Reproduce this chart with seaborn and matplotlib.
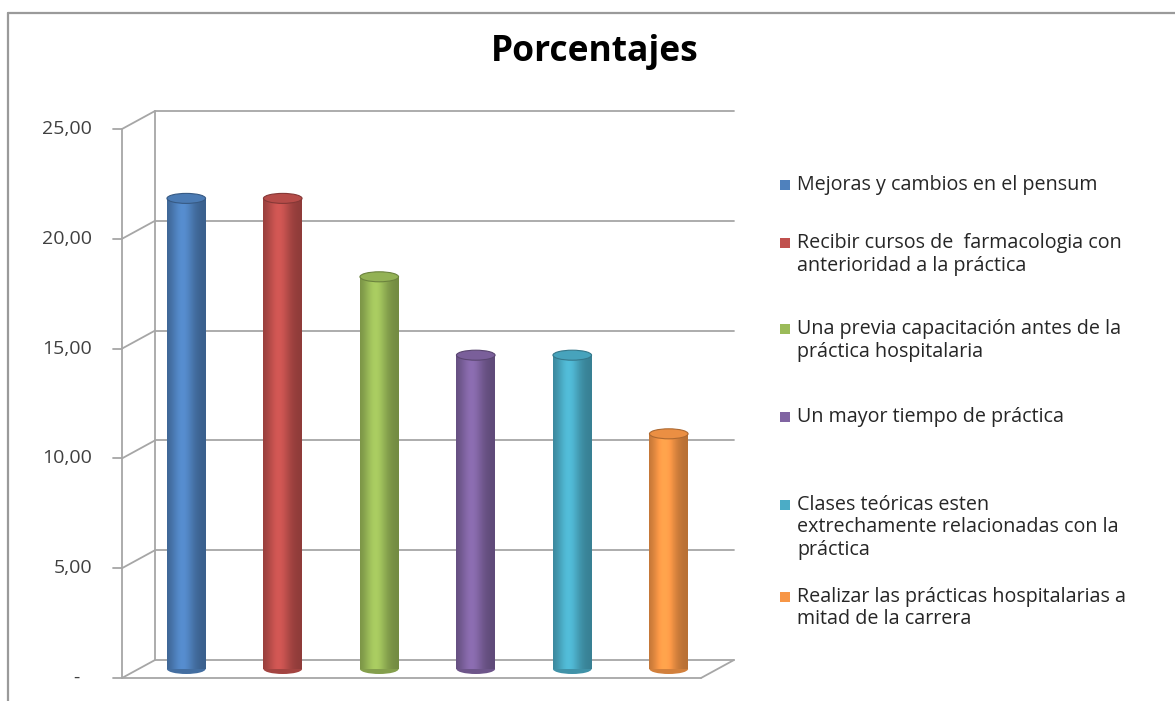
import numpy as np
import pandas as pd
import matplotlib
matplotlib.use("Agg")
import matplotlib.pyplot as plt
import matplotlib.transforms as mtransforms
from matplotlib.patches import Ellipse, Rectangle
import seaborn as sns

# ---- data -------------------------------------------------------------
categories = [
    "Mejoras y cambios en el pensum",
    "Recibir cursos de  farmacologia con\nanterioridad a la práctica",
    "Una previa capacitación antes de la\npráctica hospitalaria",
    "Un mayor tiempo de práctica",
    "Clases teóricas esten\nextrechamente relacionadas con la\npráctica",
    "Realizar las prácticas hospitalarias a\nmitad de la carrera",
]
porcentajes = [21.43, 21.43, 17.86, 14.29, 14.29, 10.71]
colors = ["#4F81BD", "#C0504D", "#9BBB59", "#8064A2", "#4BACC6", "#F79646"]
yticks = [0, 5, 10, 15, 20, 25]
ytick_labels = ["-", "5,00", "10,00", "15,00", "20,00", "25,00"]
title = "Porcentajes"

# ---- figure -----------------------------------------------------------
sns.set_theme(style="white")
plt.rcParams["font.family"] = ["Open Sans", "DejaVu Sans"]

W, H = 1175, 701
fig = plt.figure(figsize=(W / 100, H / 100), dpi=100)
fig.patch.set_facecolor("white")

# outer chart border (left and top edges visible)
fig.add_artist(plt.Line2D([8 / W, 8 / W], [0, 1 - 13 / H], transform=fig.transFigure,
                          color="#9a9a9a", lw=1.6))
fig.add_artist(plt.Line2D([8 / W, 1], [1 - 13 / H, 1 - 13 / H], transform=fig.transFigure,
                          color="#9a9a9a", lw=1.6))

# axes = middle depth plane of the 3-D box
x_left, x_right = 138, 717
y_zero, y_top = 669, 120
ax = fig.add_axes([x_left / W, (H - y_zero) / H, (x_right - x_left) / W, (y_zero - y_top) / H])

df = pd.DataFrame({"cat": categories, "val": porcentajes})
sns.barplot(data=df, x="cat", y="val", hue="cat", palette=colors, width=0.4,
            saturation=1, legend=False, ax=ax, zorder=3)
ax.set_xlim(-0.5, len(categories) - 0.5)
ax.set_ylim(0, 25)
ax.axis("off")

back = ax.transData + mtransforms.ScaledTranslation(17 / 100, 9 / 100, fig.dpi_scale_trans)
front = ax.transData + mtransforms.ScaledTranslation(-16 / 100, -9 / 100, fig.dpi_scale_trans)
grid_c = "#a6a6a6"
x0, x1 = -0.5, len(categories) - 0.5

# back wall gridlines and diagonal links to the front axis
for v in yticks:
    ax.plot([x0, x1], [v, v], transform=back, color=grid_c, lw=1.3, clip_on=False, zorder=1)
    p_front = front.transform((x0, v))
    p_back = back.transform((x0, v))
    fig.add_artist(plt.Line2D([p_front[0] / W, p_back[0] / W], [p_front[1] / H, p_back[1] / H],
                              transform=fig.transFigure, color=grid_c, lw=1.3))
    # tick mark on the front axis
    fig.add_artist(plt.Line2D([(p_front[0] - 9) / W, p_front[0] / W],
                              [p_front[1] / H, p_front[1] / H],
                              transform=fig.transFigure, color=grid_c, lw=1.3))

# back wall left edge, front axis, floor
ax.plot([x0, x0], [0, 25], transform=back, color=grid_c, lw=1.3, clip_on=False, zorder=1)
ax.plot([x0, x0], [0, 25], transform=front, color=grid_c, lw=1.3, clip_on=False, zorder=5)
ax.plot([x0, x1], [0, 0], transform=front, color=grid_c, lw=1.3, clip_on=False, zorder=5)
pf = front.transform((x1, 0))
pb = back.transform((x1, 0))
fig.add_artist(plt.Line2D([pf[0] / W, pb[0] / W], [pf[1] / H, pb[1] / H],
                          transform=fig.transFigure, color=grid_c, lw=1.3))

# y tick labels on the front axis
for v, lab in zip(yticks, ytick_labels):
    px, py = front.transform((x0, v))
    fig.text((80 if lab == "-" else 92) / W, py / H, lab,
             ha="right", va="center", fontsize=14, color="#404040")

# cylinder shading
px_per_unit = (y_zero - y_top) / 25
ell_h = 10 / px_per_unit
t = np.linspace(0, 1, 64)
shade = 0.74 + 0.36 * np.exp(-((t - 0.4) / 0.3) ** 2)
for patch, col in zip(ax.patches, colors):
    bx, bw, bh = patch.get_x(), patch.get_width(), patch.get_height()
    base = np.array(matplotlib.colors.to_rgb(col))
    img = np.clip(base[None, :] * shade[:, None], 0, 1)[None, :, :]
    im = ax.imshow(img, extent=(bx, bx + bw, 0, bh), aspect="auto", zorder=3.5,
                   interpolation="bilinear")
    im.set_clip_path(patch)
    dark = np.clip(base * 0.7, 0, 1)
    # rounded bottom
    ax.add_patch(Ellipse((bx + bw / 2, 0), bw, ell_h, facecolor=np.clip(base * 0.85, 0, 1),
                         edgecolor="none", zorder=3.4, clip_on=False))
    # top cap
    ax.add_patch(Ellipse((bx + bw / 2, bh), bw, ell_h, facecolor=np.clip(base * 0.95, 0, 1),
                         edgecolor=dark, lw=0.8, zorder=4, clip_on=False))
    patch.set_edgecolor("none")

# title
fig.text(595 / W, 1 - 52 / H, title, ha="center", va="center", fontsize=25.5,
         fontweight="bold", color="black")

# legend
legend_rows = [185, 243, 329, 417, 505, 597]
line_gap = 22.5
for lab, col, yc in zip(categories, colors, legend_rows):
    fig.add_artist(Rectangle((780 / W, 1 - (yc + 5) / H), 10 / W, 10 / H,
                             transform=fig.transFigure, facecolor=col, edgecolor="none"))
    for k, line in enumerate(lab.split("\n")):
        fig.text(797 / W, 1 - (yc + k * line_gap) / H, line, ha="left", va="center",
                 fontsize=14.2, color="#262626")

fig.savefig("out.png", dpi=100)
